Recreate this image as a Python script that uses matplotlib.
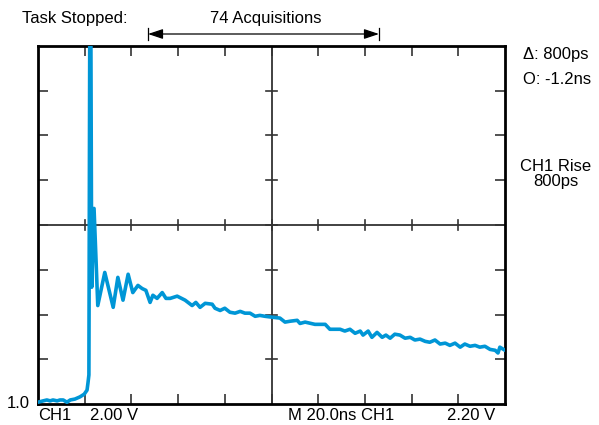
import matplotlib
matplotlib.use("Agg")
import matplotlib.pyplot as plt
from matplotlib.patches import FancyArrowPatch
from matplotlib.lines import Line2D

plt.rcParams['font.family'] = ['Liberation Sans', 'DejaVu Sans']

# time in divisions (20 ns/div), amplitude in divisions
t_div = [0.00, 0.11, 0.19, 0.26, 0.32, 0.41, 0.47, 0.54, 0.62, 0.69, 0.79, 0.90, 0.99,
         1.05, 1.07, 1.09, 1.11, 1.13, 1.15, 1.20, 1.28, 1.43, 1.61, 1.71, 1.82, 1.93,
         2.03, 2.14, 2.23, 2.31, 2.40, 2.46, 2.55, 2.66, 2.74, 2.83, 2.98, 3.15, 3.30,
         3.38, 3.47, 3.58, 3.73, 3.79, 3.90, 4.00, 4.11, 4.22, 4.33, 4.43, 4.54, 4.65,
         4.75, 4.86, 5.01, 5.18, 5.29, 5.40, 5.55, 5.61, 5.72, 5.93, 6.15, 6.25, 6.47,
         6.57, 6.68, 6.79, 6.90, 6.96, 7.07, 7.15, 7.26, 7.37, 7.45, 7.54, 7.64, 7.75,
         7.86, 7.97, 8.07, 8.18, 8.29, 8.39, 8.50, 8.61, 8.72, 8.82, 8.93, 9.04, 9.14,
         9.25, 9.36, 9.46, 9.57, 9.68, 9.79, 9.85, 9.89, 10.0]
v_div = [0.04, 0.07, 0.09, 0.07, 0.09, 0.07, 0.09, 0.09, 0.04, 0.09, 0.11, 0.16, 0.22,
         0.31, 0.47, 0.65, 9.00, 9.00, 2.61, 4.37, 2.20, 2.94, 2.16, 2.83, 2.32, 2.90,
         2.49, 2.65, 2.58, 2.54, 2.27, 2.43, 2.36, 2.49, 2.36, 2.36, 2.41, 2.32, 2.20,
         2.27, 2.16, 2.25, 2.23, 2.14, 2.09, 2.14, 2.05, 2.03, 2.07, 2.03, 2.03, 1.96,
         1.98, 1.96, 1.94, 1.92, 1.83, 1.85, 1.87, 1.80, 1.83, 1.78, 1.78, 1.67, 1.67,
         1.63, 1.67, 1.58, 1.63, 1.54, 1.63, 1.49, 1.60, 1.49, 1.54, 1.47, 1.56, 1.54,
         1.47, 1.49, 1.43, 1.45, 1.40, 1.38, 1.43, 1.34, 1.36, 1.31, 1.36, 1.27, 1.34,
         1.29, 1.31, 1.27, 1.29, 1.22, 1.20, 1.14, 1.27, 1.20]

fig = plt.figure(figsize=(5.99, 4.25), dpi=100)
ax = fig.add_axes([38/599, 21/425, 467/599, 358/425])
ax.set_xlim(0, 10)
ax.set_ylim(0, 8)

ax.plot(t_div, v_div, color='#0096D6', lw=2.6, solid_joinstyle='round',
        solid_capstyle='round', zorder=3)

# graticule center lines
ax.axvline(5, color='#333333', lw=1.3, zorder=2)
ax.axhline(4, color='#333333', lw=1.3, zorder=2)
for i in range(1, 10):
    ax.plot([i, i], [4 - 0.11, 4 + 0.11], color='#333333', lw=1.2, zorder=2)
for j in range(1, 8):
    ax.plot([5 - 0.11, 5 + 0.11], [j, j], color='#333333', lw=1.2, zorder=2)

ax.set_xticks(range(1, 10))
ax.set_yticks(range(1, 8))
ax.tick_params(direction='in', length=7, width=1.2, color='#333333',
               top=True, right=True, labelbottom=False, labelleft=False)
for s in ax.spines.values():
    s.set_linewidth(2)
    s.set_color('black')

fs = 12
fig.text(22/599, 1 - 18/425, 'Task Stopped:', fontsize=fs, va='center', ha='left')
fig.text(266/599, 1 - 18/425, '74 Acquisitions', fontsize=fs, va='center', ha='center')
fig.text(523/599, 1 - 55/425, '\u0394: 800ps', fontsize=fs, va='center', ha='left')
fig.text(523/599, 1 - 79/425, 'O: -1.2ns', fontsize=fs, va='center', ha='left')
fig.text(556/599, 1 - 174/425, 'CH1 Rise\n800ps', fontsize=fs, va='center', ha='center',
         linespacing=1.05)
fig.text(30/599, 1 - 403/425, '1.0', fontsize=fs, va='center', ha='right')
fig.text(38/599, 1 - 416/425, 'CH1', fontsize=fs, va='center', ha='left')
fig.text(90/599, 1 - 416/425, '2.00 V', fontsize=fs, va='center', ha='left')
fig.text(288/599, 1 - 416/425, 'M 20.0ns CH1', fontsize=fs, va='center', ha='left')
fig.text(447/599, 1 - 416/425, '2.20 V', fontsize=fs, va='center', ha='left')

# acquisition span arrow
ya = 1 - 34/425
x0, x1 = 148/599, 379/599
fig.add_artist(FancyArrowPatch((x0, ya), (x1, ya), transform=fig.transFigure,
               arrowstyle='<|-|>,head_length=0.9,head_width=0.3', mutation_scale=10,
               lw=0.9, color='black', shrinkA=0, shrinkB=0))
for xb in (x0, x1):
    fig.add_artist(Line2D([xb, xb], [ya - 6/425, ya + 6/425], transform=fig.transFigure,
                          color='black', lw=0.9))

fig.savefig('out.png', dpi=100)
